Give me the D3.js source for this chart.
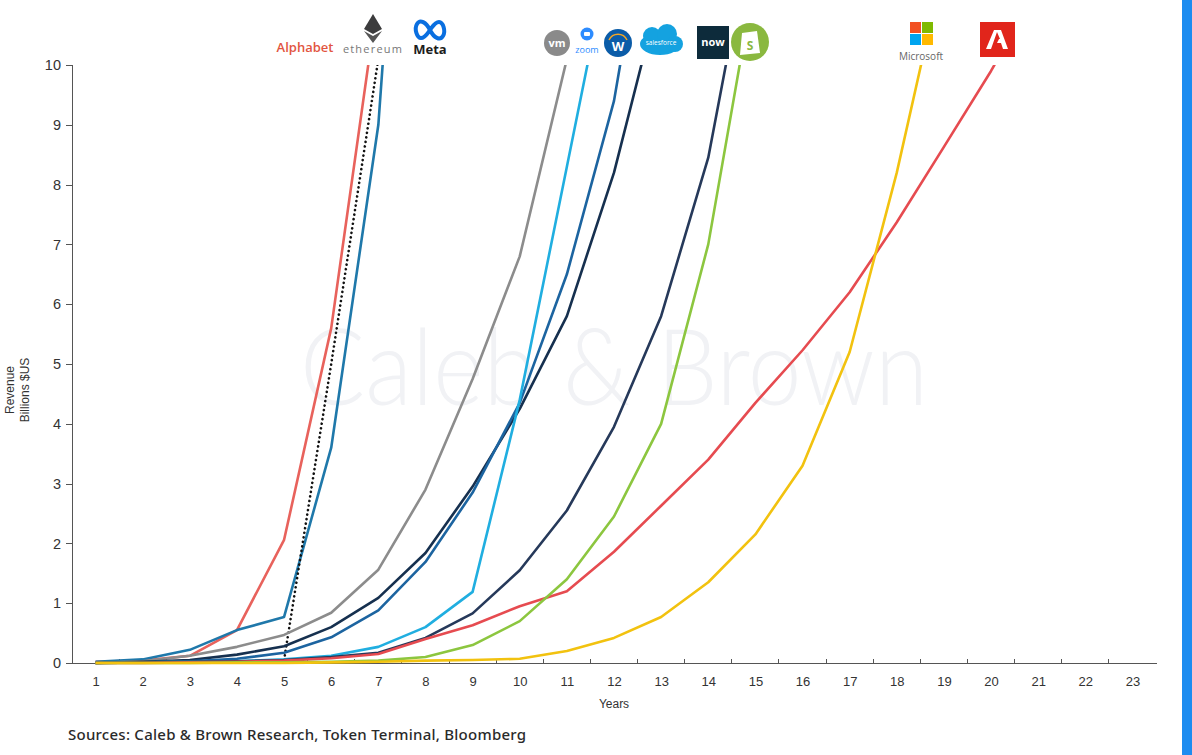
<!DOCTYPE html>
<html lang="en">
<head>
    <meta charset="UTF-8">
    <title>Revenue growth by year</title>
    <script src="https://d3js.org/d3.v7.min.js"></script>
    <style>
        body {
            margin: 0;
            padding: 0;
            background: #fff;
        }
        svg {
            display: block;
        }
        .axis text {
            font-family: "Liberation Sans", Arial, sans-serif;
            fill: #333;
        }
        .axis path,
        .axis line {
            stroke: #555;
            shape-rendering: crispEdges;
        }
        .series {
            fill: none;
            stroke-width: 2.6px;
            stroke-linejoin: round;
        }
    </style>
</head>
<body>
    <svg id="chart" width="1192" height="755"></svg>

    <script>
        // years since founding (x categories)
        const years = [1, 2, 3, 4, 5, 6, 7, 8, 9, 10, 11, 12, 13, 14, 15, 16, 17, 18, 19, 20, 21, 22, 23];
        const yTicks = [0, 1, 2, 3, 4, 5, 6, 7, 8, 9, 10];

        // revenue, billions $US, one value per year starting at year 1 (null = no data)
        const alphabet   = [0.02, 0.04, 0.12, 0.55, 2.06, 5.6, 11.2];
        const ethereum   = [null, null, null, null, 0.05, 5.0, 10.1];
        const meta       = [0.02, 0.06, 0.22, 0.55, 0.77, 3.6, 9.0, 20.0];
        const vmware     = [0.0, 0.03, 0.12, 0.27, 0.47, 0.84, 1.56, 2.9, 4.75, 6.8, 10.1];
        const zoomVideo  = [0.0, 0.01, 0.02, 0.03, 0.06, 0.12, 0.27, 0.6, 1.19, 4.4, 8.3, 12.2];
        const workday    = [0.0, 0.01, 0.03, 0.07, 0.17, 0.43, 0.88, 1.69, 2.85, 4.35, 6.5, 9.4, 14.0];
        const salesforce = [0.0, 0.02, 0.05, 0.14, 0.28, 0.6, 1.09, 1.84, 2.95, 4.25, 5.8, 8.2, 11.3];
        const servicenow = [0.0, 0.01, 0.02, 0.03, 0.05, 0.1, 0.17, 0.42, 0.83, 1.55, 2.55, 3.95, 5.8, 8.45, 12.6];
        const shopify    = [0.0, 0.0, 0.0, 0.01, 0.01, 0.02, 0.04, 0.1, 0.3, 0.7, 1.4, 2.45, 4.0, 7.0, 11.5];
        const adobe      = [0.0, 0.0, 0.01, 0.02, 0.04, 0.08, 0.15, 0.4, 0.63, 0.95, 1.2, 1.86, 2.63, 3.4, 4.35, 5.23, 6.2, 7.37, 8.63, 9.9, 11.3];
        const microsoft  = [0.0, 0.0, 0.0, 0.0, 0.0, 0.01, 0.02, 0.04, 0.05, 0.07, 0.2, 0.42, 0.77, 1.35, 2.15, 3.3, 5.2, 8.2, 11.7];

        const series = [
            { name: "Alphabet",   values: alphabet,   color: "#e8625c" },
            { name: "Meta",       values: meta,       color: "#1f78aa" },
            { name: "Ethereum",   values: ethereum,   color: "#111111", dotted: true },
            { name: "VMware",     values: vmware,     color: "#8c8c8c" },
            { name: "Salesforce", values: salesforce, color: "#16304f" },
            { name: "Workday",    values: workday,    color: "#1c64a0" },
            { name: "Zoom",       values: zoomVideo,  color: "#20aee0" },
            { name: "ServiceNow", values: servicenow, color: "#26395a" },
            { name: "Adobe",      values: adobe,      color: "#e64b50" },
            { name: "Shopify",    values: shopify,    color: "#8cc63f" },
            { name: "Microsoft",  values: microsoft,  color: "#f2c20f" }
        ];

        const svg = d3.select("#chart");

        const x = d3.scaleLinear()
            .domain([0.5, 23.5])
            .range([72, 1156]);

        const y = d3.scaleLinear()
            .domain([0, 10])
            .range([663, 65]);

        // faint watermark
        svg.append("text")
            .attr("x", 300)
            .attr("y", 405)
            .attr("textLength", 628)
            .attr("lengthAdjust", "spacingAndGlyphs")
            .style("font-family", "Lato, 'Open Sans', sans-serif")
            .style("font-weight", 300)
            .style("font-size", "106px")
            .style("fill", "#f1f2f5")
            .text("Caleb & Brown");

        // right edge accent bar
        svg.append("rect")
            .attr("x", 1182)
            .attr("y", 0)
            .attr("width", 10)
            .attr("height", 755)
            .attr("fill", "#1d8cf0");

        // clip lines at the top of the y range
        svg.append("clipPath")
            .attr("id", "plot-clip")
            .append("rect")
            .attr("x", x(0.5))
            .attr("y", y(10))
            .attr("width", x(23.5) - x(0.5))
            .attr("height", y(0) - y(10) + 4);

        // y axis
        svg.append("g")
            .attr("class", "axis")
            .attr("transform", `translate(${x(0.5)},0)`)
            .call(d3.axisLeft(y).tickValues(yTicks).tickSize(6).tickPadding(5))
            .call(g => g.selectAll("text").style("font-size", "14.5px"));

        // x axis: labels at category centres, ticks at category boundaries
        const xAxis = svg.append("g")
            .attr("class", "axis")
            .attr("transform", `translate(0,${y(0)})`)
            .call(d3.axisBottom(x).tickValues(years).tickSize(0).tickPadding(14).tickSizeOuter(0))
            .call(g => g.selectAll("text").style("font-size", "13px"));

        xAxis.selectAll(".boundary")
            .data(years.slice(0, -1))
            .enter()
            .append("line")
            .attr("class", "boundary")
            .attr("x1", d => x(d + 0.5))
            .attr("x2", d => x(d + 0.5))
            .attr("y1", 0)
            .attr("y2", -4);

        // lines
        const line = d3.line()
            .defined(d => d.v !== null)
            .x(d => x(d.year))
            .y(d => y(d.v));

        svg.append("g")
            .attr("clip-path", "url(#plot-clip)")
            .selectAll("path")
            .data(series)
            .enter()
            .append("path")
            .attr("class", "series")
            .attr("stroke", d => d.color)
            .attr("stroke-width", d => d.dotted ? 2.8 : 2.6)
            .attr("stroke-dasharray", d => d.dotted ? "0.1 4.5" : null)
            .attr("stroke-linecap", d => d.dotted ? "round" : "butt")
            .attr("d", d => line(d.values.map((v, i) => ({ year: years[i], v: v }))));

        // axis titles
        svg.append("text")
            .attr("transform", "translate(14,390) rotate(-90)")
            .attr("text-anchor", "middle")
            .style("font-family", "'Liberation Sans', Arial, sans-serif")
            .style("font-size", "12px")
            .style("fill", "#333")
            .text("Revenue");

        svg.append("text")
            .attr("transform", "translate(29,390) rotate(-90)")
            .attr("text-anchor", "middle")
            .style("font-family", "'Liberation Sans', Arial, sans-serif")
            .style("font-size", "12px")
            .style("fill", "#333")
            .text("Billions $US");

        svg.append("text")
            .attr("x", 614)
            .attr("y", 708)
            .attr("text-anchor", "middle")
            .style("font-family", "'Liberation Sans', Arial, sans-serif")
            .style("font-size", "12px")
            .style("fill", "#333")
            .text("Years");

        svg.append("text")
            .attr("x", 68)
            .attr("y", 740)
            .style("font-family", "'Noto Sans', sans-serif")
            .style("font-weight", 500)
            .style("font-size", "15px")
            .style("letter-spacing", "0.25px")
            .style("fill", "#2a2a2a")
            .text("Sources: Caleb & Brown Research, Token Terminal, Bloomberg");

        // ---- company logos (simplified) ----
        const logos = svg.append("g");

        // Alphabet
        logos.append("text")
            .attr("x", 305).attr("y", 52)
            .attr("text-anchor", "middle")
            .style("font-family", "'Open Sans', sans-serif")
            .style("font-size", "13px")
            .style("font-weight", 600)
            .style("fill", "#e2553f")
            .text("Alphabet");

        // Ethereum
        logos.append("path")
            .attr("d", "M373,14 L364,29 L373,34 L382,29 Z")
            .attr("fill", "#3c3c3d");
        logos.append("path")
            .attr("d", "M364,31 L373,43 L382,31 L373,36 Z")
            .attr("fill", "#555");
        logos.append("text")
            .attr("x", 373).attr("y", 53)
            .attr("text-anchor", "middle")
            .style("font-family", "'Open Sans', sans-serif")
            .style("font-size", "11px")
            .style("letter-spacing", "1.2px")
            .style("fill", "#777")
            .text("ethereum");

        // Meta
        logos.append("path")
            .attr("d", "M430,30 C426,22 420,19 417,24 C414,29 417,38 421,38 C425,38 427,34 430,30 C433,26 435,22 439,22 C443,22 446,31 443,36 C440,41 434,38 430,30 Z")
            .attr("fill", "none")
            .attr("stroke", "#0a6fe0")
            .attr("stroke-width", 4);
        logos.append("text")
            .attr("x", 430).attr("y", 54)
            .attr("text-anchor", "middle")
            .style("font-family", "'Open Sans', sans-serif")
            .style("font-size", "13px")
            .style("font-weight", 700)
            .style("fill", "#1c1c1c")
            .text("Meta");

        // VMware
        logos.append("circle")
            .attr("cx", 557).attr("cy", 43).attr("r", 13)
            .attr("fill", "#8a8a8a");
        logos.append("text")
            .attr("x", 557).attr("y", 47)
            .attr("text-anchor", "middle")
            .style("font-family", "'Open Sans', sans-serif")
            .style("font-size", "11px")
            .style("font-weight", 700)
            .style("fill", "#fff")
            .text("vm");

        // Zoom
        logos.append("circle")
            .attr("cx", 587).attr("cy", 34).attr("r", 6.5)
            .attr("fill", "#2d8cff");
        logos.append("rect")
            .attr("x", 584).attr("y", 32).attr("width", 6).attr("height", 4).attr("rx", 1)
            .attr("fill", "#fff");
        logos.append("text")
            .attr("x", 587).attr("y", 53)
            .attr("text-anchor", "middle")
            .style("font-family", "'Open Sans', sans-serif")
            .style("font-size", "9px")
            .style("fill", "#2d8cff")
            .text("zoom");

        // Workday
        logos.append("circle")
            .attr("cx", 618).attr("cy", 43).attr("r", 14)
            .attr("fill", "#0b5ca8");
        logos.append("path")
            .attr("d", "M609,40 A10,10 0 0 1 627,40")
            .attr("fill", "none")
            .attr("stroke", "#f5a623")
            .attr("stroke-width", 1.5);
        logos.append("text")
            .attr("x", 618).attr("y", 51)
            .attr("text-anchor", "middle")
            .style("font-family", "'Open Sans', sans-serif")
            .style("font-size", "13px")
            .style("font-weight", 700)
            .style("fill", "#fff")
            .text("W");

        // Salesforce cloud
        const cloud = logos.append("g").attr("fill", "#14a2e0");
        cloud.append("ellipse").attr("cx", 660).attr("cy", 44).attr("rx", 20).attr("ry", 11);
        cloud.append("circle").attr("cx", 652).attr("cy", 36).attr("r", 9);
        cloud.append("circle").attr("cx", 667).attr("cy", 34).attr("r", 10);
        cloud.append("circle").attr("cx", 675).attr("cy", 44).attr("r", 8);
        logos.append("text")
            .attr("x", 661).attr("y", 45)
            .attr("text-anchor", "middle")
            .style("font-family", "'Open Sans', sans-serif")
            .style("font-size", "6.5px")
            .style("fill", "#fff")
            .text("salesforce");

        // ServiceNow
        logos.append("rect")
            .attr("x", 697).attr("y", 26).attr("width", 32).attr("height", 33)
            .attr("fill", "#0d2b3b");
        logos.append("text")
            .attr("x", 713).attr("y", 46)
            .attr("text-anchor", "middle")
            .style("font-family", "'Open Sans', sans-serif")
            .style("font-size", "11px")
            .style("font-weight", 700)
            .style("fill", "#fff")
            .text("now");

        // Shopify
        logos.append("circle")
            .attr("cx", 750).attr("cy", 42).attr("r", 19)
            .attr("fill", "#8ab83f");
        logos.append("path")
            .attr("d", "M742,33 L757,31 L760,53 L740,55 Z")
            .attr("fill", "#fff");
        logos.append("text")
            .attr("x", 750).attr("y", 50)
            .attr("text-anchor", "middle")
            .style("font-family", "'Open Sans', sans-serif")
            .style("font-size", "12px")
            .style("font-weight", 700)
            .style("fill", "#8ab83f")
            .text("S");

        // Microsoft
        const msColors = ["#f25022", "#7fba00", "#00a4ef", "#ffb900"];
        msColors.forEach((c, i) => {
            logos.append("rect")
                .attr("x", 910 + (i % 2) * 12)
                .attr("y", 22 + Math.floor(i / 2) * 12)
                .attr("width", 11).attr("height", 11)
                .attr("fill", c);
        });
        logos.append("text")
            .attr("x", 921).attr("y", 60)
            .attr("text-anchor", "middle")
            .style("font-family", "'Open Sans', sans-serif")
            .style("font-size", "10px")
            .style("fill", "#666")
            .text("Microsoft");

        // Adobe
        logos.append("rect")
            .attr("x", 980).attr("y", 22).attr("width", 35).attr("height", 35)
            .attr("fill", "#e1251b");
        logos.append("path")
            .attr("d", "M994,30 L1001,30 L1008,49 L1003,49 L1001,43 L997,43 L999,39 L1000,39 L997,32 L991,49 L986,49 Z")
            .attr("fill", "#fff");
    </script>
</body>
</html>
